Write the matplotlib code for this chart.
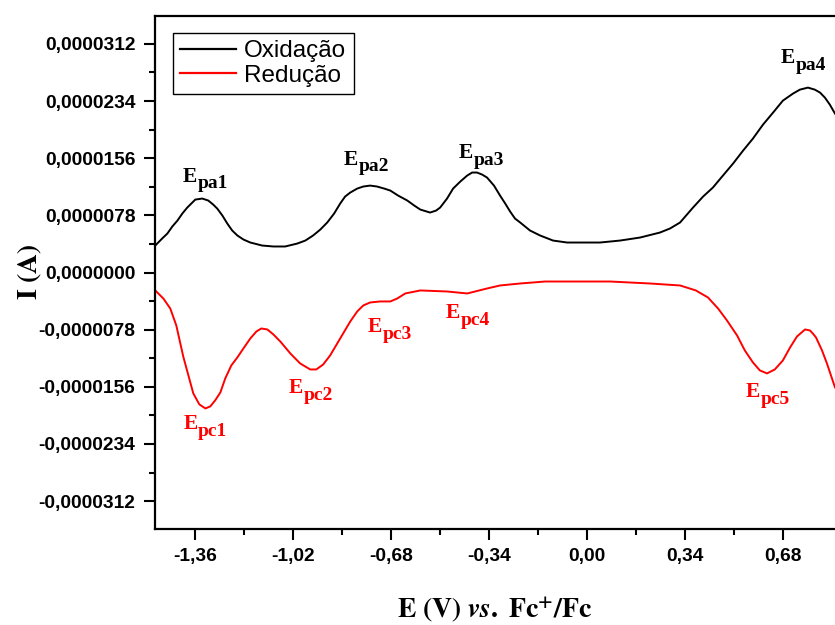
import matplotlib
matplotlib.use("Agg")
import matplotlib.pyplot as plt
from matplotlib.ticker import FixedLocator

plt.rcParams['font.family'] = ['Liberation Sans', 'DejaVu Sans']
plt.rcParams['mathtext.fontset'] = 'stix'

# potential (V vs Fc+/Fc) and current (uA) along the anodic sweep
E_ox = [-1.499, -1.475, -1.457, -1.440, -1.422, -1.405, -1.388, -1.360, -1.336, -1.315,
        -1.298, -1.284, -1.266, -1.249, -1.232, -1.214, -1.193, -1.169, -1.128, -1.089,
        -1.048, -1.006, -0.978, -0.951, -0.926, -0.902, -0.878, -0.857, -0.840, -0.822,
        -0.798, -0.777, -0.753, -0.729, -0.704, -0.683, -0.656, -0.624, -0.600, -0.579,
        -0.545, -0.524, -0.510, -0.486, -0.465, -0.440, -0.416, -0.399, -0.382, -0.364,
        -0.347, -0.323, -0.302, -0.284, -0.267, -0.250, -0.232, -0.198, -0.163, -0.118,
        -0.069, -0.007, 0.045, 0.115, 0.184, 0.253, 0.288, 0.323, 0.368, 0.403,
        0.437, 0.472, 0.507, 0.542, 0.576, 0.611, 0.646, 0.680, 0.715, 0.739,
        0.767, 0.791, 0.809, 0.826, 0.843, 0.861]
I_ox = [3.68, 4.64, 5.32, 6.27, 7.09, 8.05, 8.86, 9.95, 10.09, 9.82,
        9.27, 8.73, 7.77, 6.68, 5.73, 5.05, 4.50, 4.09, 3.68, 3.55,
        3.55, 3.95, 4.36, 5.05, 5.86, 6.82, 8.05, 9.41, 10.36, 10.91,
        11.45, 11.73, 11.86, 11.73, 11.45, 11.18, 10.50, 9.82, 9.14, 8.59,
        8.18, 8.45, 8.86, 10.09, 11.45, 12.41, 13.23, 13.64, 13.64, 13.36,
        12.95, 11.86, 10.50, 9.41, 8.32, 7.36, 6.82, 5.73, 5.05, 4.36,
        4.09, 4.09, 4.09, 4.36, 4.77, 5.45, 6.00, 6.82, 8.86, 10.36,
        11.59, 13.23, 14.86, 16.64, 18.27, 20.18, 21.82, 23.45, 24.41, 24.95,
        25.23, 24.95, 24.55, 23.86, 22.91, 21.68]

# cathodic sweep
E_red = [-1.499, -1.471, -1.447, -1.426, -1.402, -1.384, -1.367, -1.346, -1.325, -1.308,
         -1.291, -1.273, -1.256, -1.235, -1.214, -1.193, -1.169, -1.148, -1.131, -1.110,
         -1.089, -1.065, -1.030, -0.996, -0.961, -0.940, -0.916, -0.892, -0.857, -0.822,
         -0.798, -0.777, -0.753, -0.718, -0.683, -0.659, -0.631, -0.579, -0.486, -0.416,
         -0.347, -0.302, -0.232, -0.146, -0.059, 0.080, 0.219, 0.323, 0.378, 0.420,
         0.455, 0.486, 0.521, 0.548, 0.576, 0.600, 0.625, 0.652, 0.680, 0.705,
         0.729, 0.757, 0.774, 0.784, 0.795, 0.816, 0.833, 0.847, 0.861]
I_red = [-2.45, -3.55, -4.91, -7.23, -11.45, -14.05, -16.50, -18.00, -18.55, -18.27,
         -17.45, -16.36, -14.45, -12.68, -11.59, -10.36, -9.00, -8.05, -7.64, -7.77,
         -8.45, -9.41, -11.05, -12.41, -13.23, -13.23, -12.55, -11.32, -9.00, -6.68,
         -5.32, -4.50, -4.09, -3.95, -3.95, -3.55, -2.86, -2.45, -2.59, -2.86,
         -2.18, -1.77, -1.50, -1.23, -1.23, -1.23, -1.50, -1.77, -2.45, -3.41,
         -4.91, -6.55, -8.59, -10.64, -12.27, -13.36, -13.77, -13.23, -12.00, -10.23,
         -8.73, -7.77, -7.91, -8.32, -8.86, -10.64, -12.41, -14.05, -15.68]

# peak labels: (subscript, E, I in uA at the baseline of the letter E)
pa_labels = [('pa1', -1.405, 12.41), ('pa2', -0.846, 14.73),
             ('pa3', -0.447, 15.68), ('pa4', 0.673, 28.64)]
pc_labels = [('pc1', -1.402, -21.41), ('pc2', -1.037, -16.50), ('pc3', -0.760, -8.18),
             ('pc4', -0.489, -6.27), ('pc5', 0.552, -17.05)]

x_ticks = [-1.36, -1.02, -0.68, -0.34, 0.00, 0.34, 0.68]
x_ticklabels = ['-1,36', '-1,02', '-0,68', '-0,34', '0,00', '0,34', '0,68']
y_ticks = [-31.2, -23.4, -15.6, -7.8, 0.0, 7.8, 15.6, 23.4, 31.2]
y_ticklabels = ['-0,0000312', '-0,0000234', '-0,0000156', '-0,0000078', '0,0000000',
                '0,0000078', '0,0000156', '0,0000234', '0,0000312']

uA = 1e-6
RED = '#ff0000'

fig = plt.figure(figsize=(8.35, 6.25), dpi=100)
ax = fig.add_axes([155 / 835, 1 - 529 / 625, 1 - 155 / 835, (529 - 16) / 625])

ax.plot(E_ox, [v * uA for v in I_ox], color='black', lw=1.4, label='Oxidação')
ax.plot(E_red, [v * uA for v in I_red], color=RED, lw=1.4, label='Redução')


def peak_label(sub, e, i, color):
    ax.text(e, i * uA, 'E', color=color, fontsize=15.5, fontweight='bold',
            family='Liberation Serif', ha='left', va='baseline')
    ax.annotate(sub, xy=(e, i * uA), xytext=(10.8, -5), textcoords='offset points',
                color=color, fontsize=14, fontweight='bold', family='Liberation Serif',
                ha='left', va='baseline')


for sub, e, i in pa_labels:
    peak_label(sub, e, i, 'black')
for sub, e, i in pc_labels:
    peak_label(sub, e, i, RED)

ax.set_xlim(-1.5, 0.861)
ax.set_ylim(-35e-6, 35e-6)

ax.xaxis.set_major_locator(FixedLocator(x_ticks))
ax.set_xticklabels(x_ticklabels)
ax.xaxis.set_minor_locator(FixedLocator([t + 0.17 for t in x_ticks[:-1]] + [x_ticks[0] - 0.17]))
ax.yaxis.set_major_locator(FixedLocator([t * uA for t in y_ticks]))
ax.set_yticklabels(y_ticklabels)
ax.yaxis.set_minor_locator(FixedLocator([(t + 3.9) * uA for t in y_ticks[:-1]]))

ax.spines['right'].set_visible(False)
for s in ['left', 'bottom', 'top']:
    ax.spines[s].set_linewidth(1.6)
ax.tick_params(which='major', direction='out', length=8, width=1.5, labelsize=13.8, pad=6)
ax.tick_params(which='minor', direction='out', length=4.5, width=1.5)
for lab in ax.get_xticklabels() + ax.get_yticklabels():
    lab.set_fontweight('bold')

leg = ax.legend(loc='upper left', bbox_to_anchor=(0.0265, 0.967), borderaxespad=0,
                fontsize=17.5, frameon=True, fancybox=False, framealpha=1,
                edgecolor='black', handlelength=2.3, handletextpad=0.33,
                borderpad=0.3, labelspacing=0.1)
leg.get_frame().set_linewidth(1.0)
for line in leg.get_lines():
    line.set_linewidth(1.6)

fig.text(495 / 835, 1 - 617 / 625, r'$\mathbf{E\ (V)}\ \mathbfit{vs}\mathbf{.\ Fc^{+}/Fc}$',
         fontsize=20, ha='center', va='baseline')
fig.text(30 / 835, 1 - 272 / 625, r'$\mathbf{I\ (A)}$', fontsize=20, rotation=90,
         ha='center', va='center')

fig.savefig('out.png', dpi=100)
